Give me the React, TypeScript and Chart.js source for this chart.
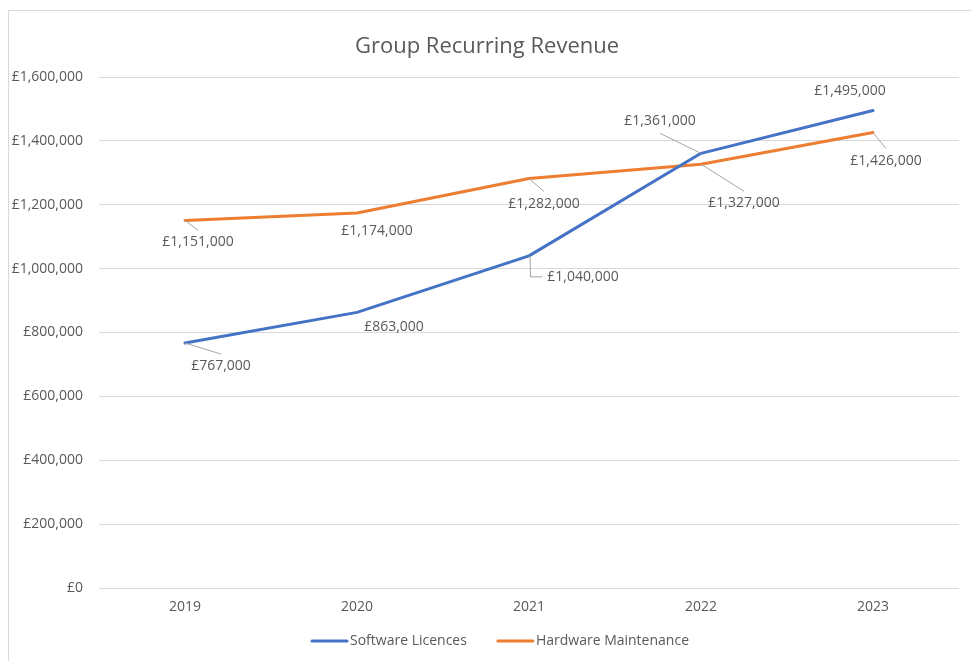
import { useEffect, useRef } from 'react';
import { Chart, registerables } from 'chart.js';

Chart.register(...registerables);

const chartTitle = 'Group Recurring Revenue';
const years = ['2019', '2020', '2021', '2022', '2023'];
const softwareLicences = [767000, 863000, 1040000, 1361000, 1495000];
const hardwareMaintenance = [1151000, 1174000, 1282000, 1327000, 1426000];
const seriesNames = ['Software Licences', 'Hardware Maintenance'];
const seriesColors = ['#4472C4', '#ED7D31'];
const yMin = 0;
const yMax = 1600000;
const yStep = 200000;

// Layout of the data labels (pixel offsets from the point, and leader style)
const labelLayout = [
  [
    { dx: 36, dy: 23, leader: 'line' },
    { dx: 37, dy: 15, leader: 'none' },
    { dx: 54, dy: 21, leader: 'elbow' },
    { dx: -41, dy: -32, leader: 'line' },
    { dx: -23, dy: -20, leader: 'none' },
  ],
  [
    { dx: 13, dy: 22, leader: 'line' },
    { dx: 20, dy: 18, leader: 'none' },
    { dx: 15, dy: 25, leader: 'line' },
    { dx: 43, dy: 39, leader: 'line' },
    { dx: 13, dy: 28, leader: 'line' },
  ],
];

const FONT = "'Open Sans', 'Noto Sans', sans-serif";
const TEXT = '#595959';
const GRID = '#d9d9d9';

const fmt = (v: number) => '£' + v.toLocaleString('en-GB');

const frame = {
  id: 'frame',
  beforeDraw(chart: any) {
    const { ctx, width, height } = chart;
    ctx.save();
    ctx.fillStyle = '#ffffff';
    ctx.fillRect(0, 0, width, height);
    ctx.strokeStyle = GRID;
    ctx.lineWidth = 1;
    ctx.strokeRect(8.5, 10.5, width + 50, height + 50);
    ctx.restore();
  },
  afterDraw(chart: any) {
    const { ctx } = chart;
    ctx.save();
    ctx.font = `22px ${FONT}`;
    ctx.fillStyle = TEXT;
    ctx.textAlign = 'center';
    ctx.textBaseline = 'middle';
    ctx.fillText(chartTitle, 487, 47);
    ctx.restore();
  },
};

const dataLabels = {
  id: 'dataLabels',
  afterDatasetsDraw(chart: any) {
    const { ctx } = chart;
    ctx.save();
    ctx.font = `14px ${FONT}`;
    ctx.textAlign = 'center';
    ctx.textBaseline = 'middle';
    chart.data.datasets.forEach((ds: any, di: number) => {
      const meta = chart.getDatasetMeta(di);
      meta.data.forEach((pt: any, i: number) => {
        const lay = labelLayout[di][i];
        const cx = pt.x + lay.dx;
        const cy = pt.y + lay.dy;
        const text = fmt(ds.data[i]);
        const w = ctx.measureText(text).width;
        ctx.strokeStyle = '#a6a6a6';
        ctx.lineWidth = 1;
        if (lay.leader === 'line') {
          const ey = lay.dy > 0 ? cy - 12 : cy + 12;
          ctx.beginPath();
          ctx.moveTo(pt.x, pt.y);
          ctx.lineTo(cx, ey);
          ctx.stroke();
        } else if (lay.leader === 'elbow') {
          ctx.beginPath();
          ctx.moveTo(pt.x + 1, pt.y);
          ctx.lineTo(pt.x + 1.5, cy);
          ctx.lineTo(cx - w / 2 - 5, cy);
          ctx.stroke();
        }
        ctx.fillStyle = TEXT;
        ctx.fillText(text, cx, cy);
      });
    });
    ctx.restore();
  },
};

// Excel-style legend: line sample, small gap, text; items separated by 30px
const bottomLegend = {
  id: 'bottomLegend',
  afterDraw(chart: any) {
    const { ctx } = chart;
    const sample = 37;
    const gap = 2;
    const itemGap = 30;
    const y = 641;
    const centerX = 500;
    ctx.save();
    ctx.font = `14px ${FONT}`;
    ctx.textBaseline = 'middle';
    ctx.textAlign = 'left';
    const items = chart.data.datasets.map((ds: any) => ({
      label: ds.label,
      color: ds.borderColor,
      w: ctx.measureText(ds.label).width,
    }));
    const total =
      items.reduce((s: number, it: any) => s + sample + gap + it.w, 0) + itemGap * (items.length - 1);
    let x = centerX - total / 2;
    items.forEach((it: any) => {
      ctx.strokeStyle = it.color;
      ctx.lineWidth = 3;
      ctx.lineCap = 'round';
      ctx.beginPath();
      ctx.moveTo(x + 1, y);
      ctx.lineTo(x + sample - 1, y);
      ctx.stroke();
      ctx.fillStyle = TEXT;
      ctx.fillText(it.label, x + sample + gap, y);
      x += sample + gap + it.w + itemGap;
    });
    ctx.restore();
  },
};

export default function App() {
  const ref = useRef<HTMLCanvasElement | null>(null);
  useEffect(() => {
    if (!ref.current) return;
    const chart = new Chart(ref.current, {
      type: 'line',
      data: {
        labels: years,
        datasets: [
          {
            label: seriesNames[0],
            data: softwareLicences,
            borderColor: seriesColors[0],
            backgroundColor: seriesColors[0],
            borderWidth: 3,
            pointRadius: 0,
            borderCapStyle: 'round',
            borderJoinStyle: 'round',
            tension: 0,
          },
          {
            label: seriesNames[1],
            data: hardwareMaintenance,
            borderColor: seriesColors[1],
            backgroundColor: seriesColors[1],
            borderWidth: 3,
            pointRadius: 0,
            borderCapStyle: 'round',
            borderJoinStyle: 'round',
            tension: 0,
          },
        ],
      },
      options: {
        animation: false,
        responsive: true,
        maintainAspectRatio: false,
        layout: { padding: { top: 77, right: 12, bottom: 37, left: 0 } },
        plugins: {
          title: { display: false },
          legend: { display: false },
          tooltip: { enabled: false },
        },
        scales: {
          x: {
            offset: true,
            grid: { display: false },
            border: { display: false },
            ticks: { color: TEXT, font: { family: FONT, size: 14 }, padding: 3 },
            afterFit: (s: any) => {
              s.height = 36;
            },
          },
          y: {
            min: yMin,
            max: yMax,
            grid: { color: GRID, lineWidth: 1, drawTicks: false },
            border: { display: false },
            ticks: {
              stepSize: yStep,
              color: TEXT,
              font: { family: FONT, size: 14 },
              padding: 16,
              callback: (v: any) => fmt(Number(v)),
            },
            afterFit: (s: any) => {
              s.width = 99;
            },
          },
        },
      },
      plugins: [frame, dataLabels, bottomLegend],
    });
    return () => chart.destroy();
  }, []);
  return (
    <div style={{ position: 'fixed', left: 0, top: 0, width: 971, height: 661 }}>
      <canvas ref={ref} />
    </div>
  );
}
